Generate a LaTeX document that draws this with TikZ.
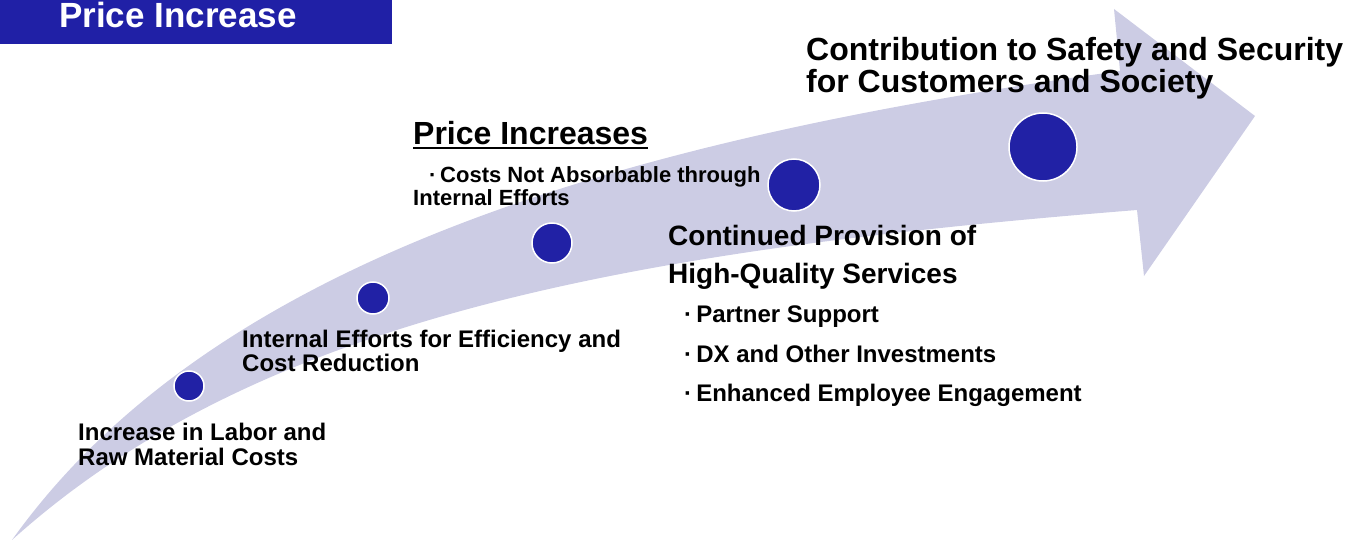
\documentclass[tikz,border=0pt]{standalone}
\usepackage{fontspec}
\setmainfont{Liberation Sans}
\definecolor{arrowfill}{RGB}{204,204,228}
\definecolor{navy}{RGB}{32,32,166}
\definecolor{dotblue}{RGB}{33,33,165}
\newcommand{\fsz}[1]{\fontsize{#1}{#1}\selectfont}
\newcommand{\bul}{\textperiodcentered\kern0.17em}
\begin{document}
\begin{tikzpicture}[x=1pt,y=-1pt,
  lbl/.style={anchor=base west, inner sep=0pt, font=\bfseries\fsz{24}},
  dotnode/.style={circle, fill=dotblue, draw=white, line width=1.5pt, inner sep=0pt}]
\useasboundingbox (0,0) rectangle (1357,540);
% curved arrow
\fill[arrowfill]
  (12,540) .. controls (212,260) and (620,140) .. (1120,71)
  -- (1114,9) -- (1255,116) -- (1144,276) -- (1137,210)
  .. controls (637,250) and (262,315) .. (12,540)
  -- cycle;
% banner
\node[fill=navy, inner sep=0pt, minimum width=392pt, minimum height=44pt, anchor=north west] (banner) at (0,0) {};
\node[lbl, text=white, font=\bfseries\fsz{35}] (title) at (59,28) {Price Increase};
% circles
\node[dotnode, minimum size=30pt] (c1) at (189,386) {};
\node[dotnode, minimum size=32pt] (c2) at (373,298) {};
\node[dotnode, minimum size=40pt] (c3) at (552,243) {};
\node[dotnode, minimum size=52pt] (c4) at (794,185) {};
\node[dotnode, minimum size=68pt] (c5) at (1043,147) {};
% texts
\node[lbl, font=\bfseries\fsz{32}] (goal1) at (806,61) {Contribution to Safety and Security};
\node[lbl, font=\bfseries\fsz{32}] (goal2) at (806,93) {for Customers and Society};
\node[lbl, font=\bfseries\fsz{32}] (pi) at (413,145) {Price Increases};
\draw[line width=2pt] ([yshift=-3pt]pi.base west) -- ([yshift=-3pt]pi.base east);
\node[lbl, font=\bfseries\fsz{22}] (cost1) at (429,183) {\bul Costs Not Absorbable through};
\node[lbl, font=\bfseries\fsz{22}] (cost2) at (413,206) {Internal Efforts};
\node[lbl, font=\bfseries\fsz{28}] (cont1) at (668,245) {Continued Provision of};
\node[lbl, font=\bfseries\fsz{28}] (cont2) at (668,283) {High-Quality Services};
\node[lbl] (b1) at (684,322) {\bul Partner Support};
\node[lbl] (b2) at (684,362) {\bul DX and Other Investments};
\node[lbl] (b3) at (684,401) {\bul Enhanced Employee Engagement};
\node[lbl] (ie1) at (242,347) {Internal Efforts for Efficiency and};
\node[lbl] (ie2) at (242,371) {Cost Reduction};
\node[lbl] (inc1) at (78,440) {Increase in Labor and};
\node[lbl] (inc2) at (78,465) {Raw Material Costs};
\end{tikzpicture}
\end{document}
